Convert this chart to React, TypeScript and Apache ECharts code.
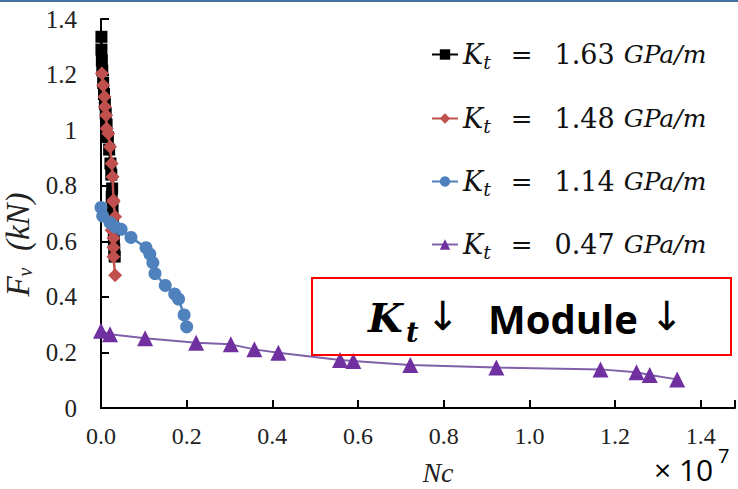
import React, { useEffect, useRef } from "react";
import * as echarts from "echarts";

// Nc in units of 1e7 cycles, Fv in kN
const nc163 = [0.001, 0.001, 0.002, 0.003, 0.005, 0.007, 0.009, 0.011, 0.013, 0.016, 0.019, 0.022, 0.024, 0.026, 0.025, 0.027, 0.028, 0.030, 0.030, 0.031, 0.032];
const fv163 = [1.336, 1.290, 1.250, 1.215, 1.170, 1.130, 1.095, 1.060, 1.020, 0.975, 0.930, 0.880, 0.840, 0.790, 0.760, 0.720, 0.680, 0.640, 0.600, 0.570, 0.545];

const nc148 = [0.002, 0.005, 0.008, 0.009, 0.012, 0.013, 0.017, 0.021, 0.025, 0.027, 0.029, 0.029, 0.033, 0.025, 0.029, 0.029, 0.029, 0.033];
const fv148 = [1.204, 1.162, 1.120, 1.084, 1.054, 1.006, 0.988, 0.940, 0.880, 0.832, 0.748, 0.742, 0.688, 0.640, 0.612, 0.578, 0.544, 0.478];

const nc114 = [0.000, 0.004, 0.021, 0.033, 0.047, 0.070, 0.105, 0.114, 0.121, 0.126, 0.150, 0.172, 0.181, 0.194, 0.200];
const fv114 = [0.722, 0.691, 0.667, 0.652, 0.643, 0.614, 0.577, 0.554, 0.523, 0.484, 0.441, 0.410, 0.392, 0.335, 0.292];

const nc047 = [0.000, 0.021, 0.103, 0.222, 0.303, 0.358, 0.414, 0.558, 0.589, 0.722, 0.923, 1.166, 1.250, 1.281, 1.345];
const fv047 = [0.278, 0.265, 0.251, 0.235, 0.229, 0.211, 0.199, 0.173, 0.169, 0.155, 0.146, 0.139, 0.129, 0.119, 0.103];

const ktValues = ["1.63", "1.48", "1.14", "0.47"];
const seriesNames = ktValues.map((v) => `Kt = ${v} GPa/m`);
const xTicks = [0, 0.2, 0.4, 0.6, 0.8, 1.0, 1.2, 1.4];

const zip = (xs: number[], ys: number[]) => xs.map((x, i) => [x, ys[i]]);

export default function App() {
  const ref = useRef<HTMLDivElement>(null);
  useEffect(() => {
    if (!ref.current) return;
    const chart = echarts.init(ref.current, undefined, { renderer: "svg" });
    const serif = "'Liberation Serif', 'Times New Roman', serif";
    const mathSerif = "'DejaVu Serif', serif";
    const colors = ["#000000", "#C0504D", "#4F81BD", "#7030A0"];
    const symbols = ["rect", "diamond", "circle", "triangle"];
    const sizes = [12, 14, 13, 16];
    const datas = [zip(nc163, fv163), zip(nc148, fv148), zip(nc114, fv114), zip(nc047, fv047)];
    const legendRows = [53, 117, 180, 243];
    const legendRich = {
      k: { fontFamily: mathSerif, fontStyle: "italic", fontSize: 27, color: "#111", lineHeight: 34 },
      s: { fontFamily: mathSerif, fontStyle: "italic", fontSize: 19, color: "#111", lineHeight: 19, verticalAlign: "bottom" },
      e: { fontFamily: mathSerif, fontSize: 26, color: "#111", lineHeight: 34, padding: [0, 22, 0, 20] },
      n: { fontFamily: mathSerif, fontSize: 27, color: "#111", lineHeight: 34, padding: [0, 9, 0, 0] },
      u: { fontFamily: mathSerif, fontStyle: "italic", fontSize: 25, color: "#111", lineHeight: 34 },
    };
    const option: any = {
      animation: false,
      backgroundColor: "#ffffff",
      grid: { left: 101, top: 19, right: 3, bottom: 81, containLabel: false, outerBoundsMode: "none" },
      xAxis: {
        type: "value",
        min: 0,
        max: 1.48,
        interval: 0.2,
        axisLine: { lineStyle: { color: "#000", width: 2 } },
        axisTick: { inside: true, length: 8, lineStyle: { color: "#000", width: 2 } },
        splitLine: { show: false },
        axisLabel: {
          margin: 16,
          fontFamily: serif,
          fontSize: 24,
          color: "#222",
          formatter: (v: number) => (xTicks.some((t) => Math.abs(t - v) < 1e-6) ? v.toFixed(1) : ""),
        },
        name: "Nc",
        nameLocation: "middle",
        nameGap: 50,
        nameTextStyle: { fontFamily: serif, fontStyle: "italic", fontSize: 28, color: "#222", padding: [0, 0, 0, 40] },
      },
      yAxis: {
        type: "value",
        min: 0,
        max: 1.4,
        interval: 0.2,
        axisLine: { lineStyle: { color: "#000", width: 2 } },
        axisTick: { inside: true, length: 8, lineStyle: { color: "#000", width: 2 } },
        splitLine: { show: false },
        axisLabel: { margin: 24, fontFamily: serif, fontSize: 25, color: "#222" },
        name: "{f|F}{s|v}{n|  (kN)}",
        nameLocation: "middle",
        nameRotate: 90,
        nameGap: 61,
        nameTextStyle: {
          padding: [0, 62, 0, 0],
          rich: {
            f: { fontFamily: serif, fontStyle: "italic", fontSize: 33, color: "#222", lineHeight: 34 },
            s: { fontFamily: serif, fontStyle: "italic", fontSize: 20, color: "#222", verticalAlign: "bottom", lineHeight: 20 },
            n: { fontFamily: serif, fontStyle: "italic", fontSize: 33, color: "#222", lineHeight: 34 },
          },
        },
      },
      legend: seriesNames.map((name, i) => ({
        data: [name],
        left: 426,
        top: legendRows[i] - 17,
        orient: "vertical",
        itemWidth: 26,
        itemHeight: 13,
        itemGap: 4,
        selectedMode: false,
        formatter: () => `{k|K}{s|t}{e|=}{n|${ktValues[i]}}{u|GPa/m}`,
        textStyle: { rich: legendRich },
      })),
      series: seriesNames.map((name, i) => ({
        name,
        type: "line",
        data: datas[i],
        symbol: symbols[i],
        symbolSize: sizes[i],
        color: colors[i],
        itemStyle: { color: colors[i] },
        lineStyle: { color: i === 3 ? "#8060A8" : colors[i], width: i === 3 ? 2 : 2.5 },
        z: 2 + i,
      })),
      graphic: [
        { type: "rect", left: 0, top: 0, shape: { x: 0, y: 0, width: 738, height: 2 }, style: { fill: "#41719C" } },
        {
          type: "rect",
          shape: { x: 312, y: 278, width: 419, height: 77 },
          style: { fill: "none", stroke: "#FF0000", lineWidth: 2 },
          z: 20,
        },
        { type: "text", x: 368, y: 317, style: { text: "K", font: "italic bold 40px 'DejaVu Serif'", fill: "#000", textVerticalAlign: "middle" }, z: 21 },
        { type: "text", x: 406, y: 332, style: { text: "t", font: "italic bold 27px 'DejaVu Serif'", fill: "#000", textVerticalAlign: "middle" }, z: 21 },
        { type: "text", x: 426, y: 316, style: { text: "↓", font: "40px 'DejaVu Sans'", fill: "#000", textVerticalAlign: "middle" }, z: 21 },
        { type: "text", x: 488, y: 318, style: { text: "Module", font: "bold 40px 'Open Sans'", fill: "#000", textVerticalAlign: "middle" }, z: 21 },
        { type: "text", x: 650, y: 316, style: { text: "↓", font: "40px 'DejaVu Sans'", fill: "#000", textVerticalAlign: "middle" }, z: 21 },
        { type: "text", x: 654, y: 469, style: { text: "× 10", font: "30px 'Open Sans'", fill: "#000", textVerticalAlign: "middle" }, z: 21 },
        { type: "text", x: 718, y: 455, style: { text: "7", font: "20px 'Open Sans'", fill: "#000", textVerticalAlign: "middle" }, z: 21 },
      ],
    };
    chart.setOption(option);
    return () => chart.dispose();
  }, []);
  return <div ref={ref} style={{ position: "absolute", left: 0, top: 0, width: 738, height: 489 }} />;
}
